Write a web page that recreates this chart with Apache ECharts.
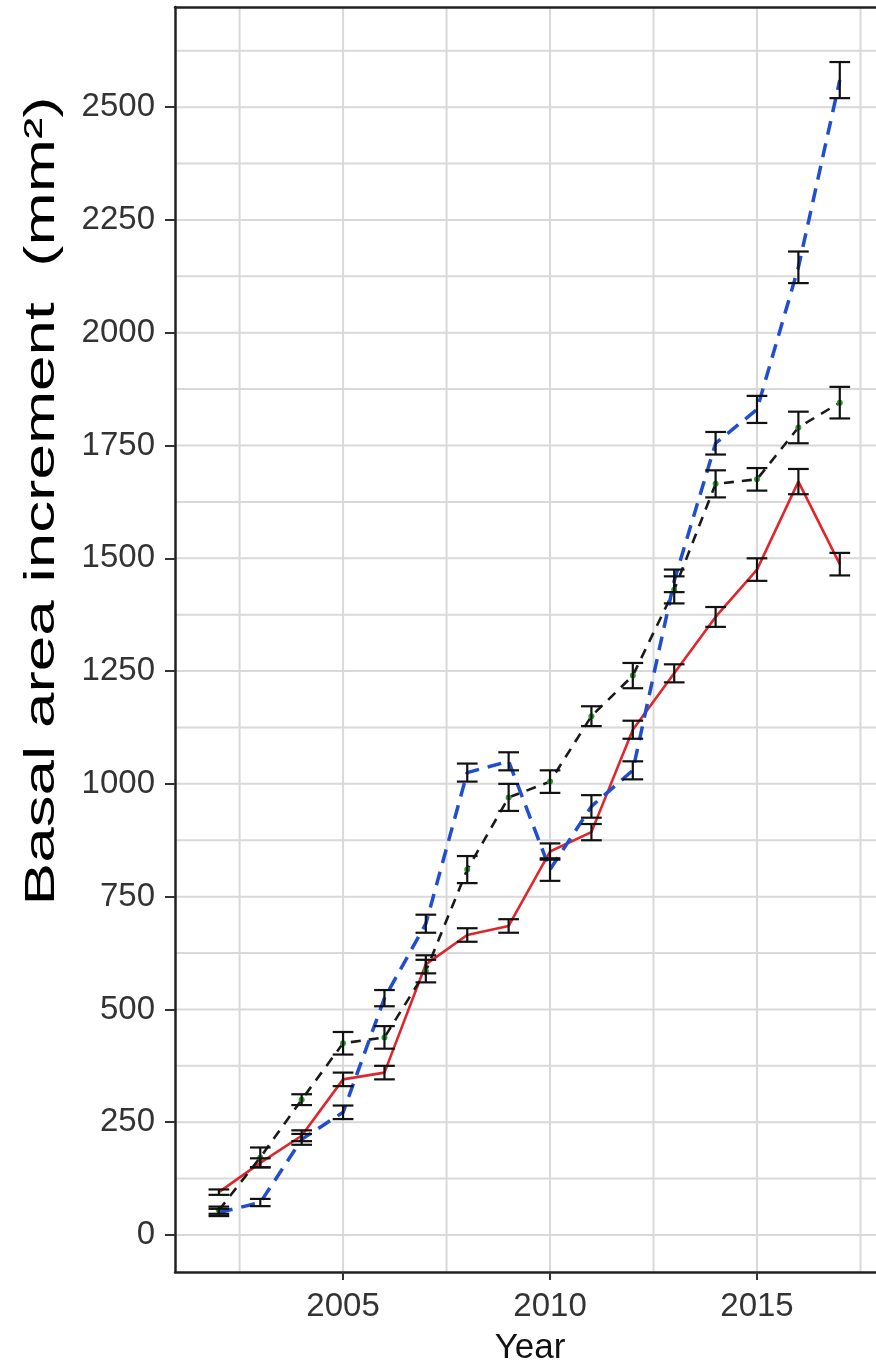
<!DOCTYPE html>
<html>
<head>
<meta charset="utf-8">
<script src="https://cdn.jsdelivr.net/npm/echarts@6/dist/echarts.min.js"></script>
<style>
html,body{margin:0;padding:0;background:#fff;}
#chart{width:876px;height:1367px;}
</style>
</head>
<body>
<div id="chart"></div>
<script>
// ---- data ----
const years = [2002,2003,2004,2005,2006,2007,2008,2009,2010,2011,2012,2013,2014,2015,2016,2017];
const redMean   = [95, 160, 220, 345, 360, 600, 665, 685, 850, 893, 1120, 1245, 1370, 1475, 1670, 1487];
const redErr    = [6, 10, 12, 15, 15, 20, 15, 15, 18, 18, 20, 20, 22, 25, 28, 25];
const blackMean = [55, 172, 300, 425, 438, 585, 810, 970, 1005, 1150, 1240, 1430, 1665, 1675, 1790, 1845];
const blackErr  = [8, 22, 12, 25, 25, 25, 30, 30, 25, 22, 28, 30, 30, 25, 35, 35];
const blueMean  = [50, 72, 212, 272, 525, 690, 1025, 1050, 810, 950, 1030, 1450, 1755, 1830, 2145, 2560];
const blueErr   = [8, 8, 12, 15, 18, 20, 20, 20, 25, 25, 20, 25, 25, 30, 35, 40];
const xTicks = [2005, 2010, 2015];
const yTicks = [0, 250, 500, 750, 1000, 1250, 1500, 1750, 2000, 2250, 2500];
const xGrid = [2002.5, 2005, 2007.5, 2010, 2012.5, 2015, 2017.5];
const yGrid = [0,125,250,375,500,625,750,875,1000,1125,1250,1375,1500,1625,1750,1875,2000,2125,2250,2375,2500,2625];

const FONT = 'Liberation Sans, Arial, sans-serif';

function pairs(m){ return years.map((y,i)=>[y, m[i]]); }
function bars(m,e){ return years.map((y,i)=>[y, m[i]-e[i], m[i]+e[i]]); }

const gridData = xGrid.map(v=>[v, 0, 0]).concat(yGrid.map(v=>[2005, v, 1]));

function gridRender(params, api){
  const cs = params.coordSys;
  const t = api.value(2);
  if (t === 0){
    const px = api.coord([api.value(0), 0])[0];
    return {type:'line', shape:{x1:px,y1:cs.y,x2:px,y2:cs.y+cs.height},
      style:{stroke:'#d9d9d9', lineWidth:2}};
  } else {
    const py = api.coord([2005, api.value(1)])[1];
    return {type:'line', shape:{x1:cs.x,y1:py,x2:cs.x+cs.width,y2:py},
      style:{stroke:'#d9d9d9', lineWidth:2}};
  }
}

function errRender(params, api){
  const x = api.value(0);
  const lo = api.coord([x, api.value(1)]);
  const hi = api.coord([x, api.value(2)]);
  const hw = api.size([0.25, 0])[0];
  const st = {stroke:'#111', lineWidth:2.2};
  return {type:'group', children:[
    {type:'line', shape:{x1:lo[0],y1:lo[1],x2:hi[0],y2:hi[1]}, style:st},
    {type:'line', shape:{x1:lo[0]-hw,y1:lo[1],x2:lo[0]+hw,y2:lo[1]}, style:st},
    {type:'line', shape:{x1:hi[0]-hw,y1:hi[1],x2:hi[0]+hw,y2:hi[1]}, style:st}
  ]};
}

const XMIN = 2000.94, XMAX = 2017.875;
const chart = echarts.init(document.getElementById('chart'), null, {renderer:'canvas'});
chart.setOption({
  animation:false,
  backgroundColor:'#fff',
  grid:{left:175, top:7, right:0, bottom:95, show:false},
  xAxis:[{
    type:'value', min:XMIN, max:XMAX, position:'bottom',
    axisLine:{show:true, onZero:false, lineStyle:{color:'#222', width:2.5}},
    splitLine:{show:false},
    axisTick:{show:true, customValues:xTicks, length:8, lineStyle:{color:'#333', width:2}},
    axisLabel:{show:true, customValues:xTicks, margin:18, fontSize:33, color:'#333', fontFamily:FONT,
      formatter:v=>String(v)}
  },{
    type:'value', min:XMIN, max:XMAX, position:'top',
    axisLine:{show:true, onZero:false, lineStyle:{color:'#222', width:2.5}},
    splitLine:{show:false}, axisTick:{show:false}, axisLabel:{show:false}
  }],
  yAxis:{
    type:'value', min:-82, max:2722,
    axisLine:{show:true, onZero:false, lineStyle:{color:'#222', width:2.5}},
    splitLine:{show:false},
    axisTick:{show:true, customValues:yTicks, length:10, lineStyle:{color:'#333', width:2}},
    axisLabel:{show:true, customValues:yTicks, margin:20, fontSize:33, color:'#333', fontFamily:FONT,
      formatter:v=>String(v)}
  },
  graphic:[
    {type:'text', x:530, y:1348, style:{text:'Year', font:'35px '+FONT, fill:'#111', align:'center', verticalAlign:'middle'}},
    {type:'text', x:42, y:501, rotation:Math.PI/2, scaleX:1.52, scaleY:1,
      style:{text:'Basal area increment  (mm\u00B2)', font:'42px '+FONT, fill:'#000', align:'center', verticalAlign:'middle'}}
  ],
  series:[
    {type:'custom', renderItem:gridRender, data:gridData, z:0, silent:true, clip:true},
    {type:'line', data:pairs(redMean), showSymbol:false, z:3,
      lineStyle:{color:'#e0262a', width:2.6, type:'solid'}},
    {type:'line', data:pairs(blackMean), showSymbol:true, symbol:'circle', symbolSize:6, z:3,
      itemStyle:{color:'#2ca02c'},
      lineStyle:{color:'#1a1a1a', width:2.6, type:[10,8]}},
    {type:'line', data:pairs(blueMean), showSymbol:false, z:4,
      lineStyle:{color:'#1f4fd0', width:3.5, type:[14,9]}},
    {type:'custom', renderItem:errRender, data:bars(redMean,redErr), z:5, silent:true},
    {type:'custom', renderItem:errRender, data:bars(blackMean,blackErr), z:5, silent:true},
    {type:'custom', renderItem:errRender, data:bars(blueMean,blueErr), z:5, silent:true}
  ]
});
</script>
</body>
</html>
